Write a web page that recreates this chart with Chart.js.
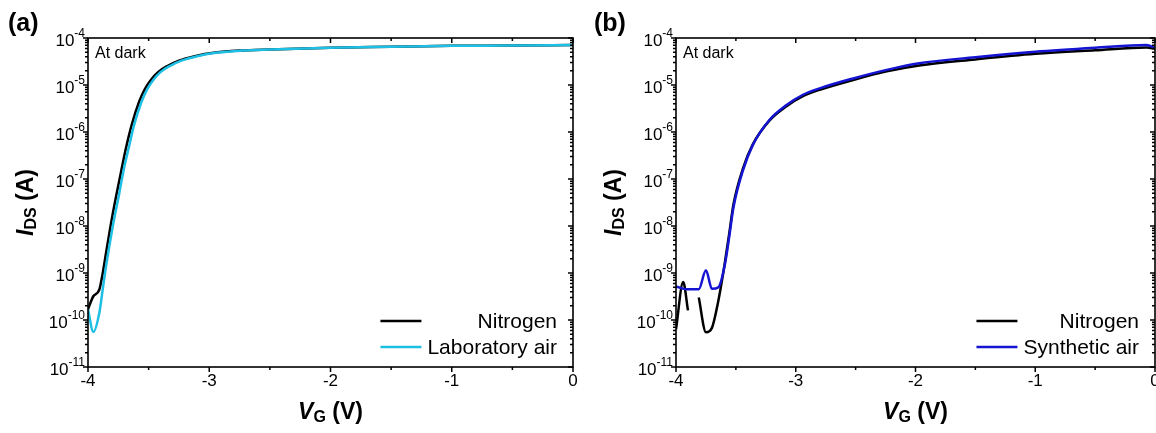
<!DOCTYPE html>
<html>
<head>
<meta charset="utf-8">
<script src="https://cdn.jsdelivr.net/npm/chart.js@4/dist/chart.umd.min.js"></script>
<style>
    body { margin: 0; background: #fff; }
    .panel { position: absolute; top: 0; }
    #panel-a { left: 0; }
    #panel-b { left: 580px; }
</style>
</head>
<body>
<canvas id="panel-a" class="panel" width="580" height="433"></canvas>
<canvas id="panel-b" class="panel" width="576" height="433"></canvas>
<script>
// tick values
const xTicks = [-4, -3, -2, -1, 0];
const yExponents = [-11, -10, -9, -8, -7, -6, -5, -4];

// (a) nitrogen vs laboratory air
const vgNitrogenA = [-4, -3.956, -3.907, -3.879, -3.852, -3.81, -3.769, -3.728, -3.69, -3.64, -3.577, -3.53, -3.48, -3.42, -3.35, -3.25, -3.12, -2.95, -2.75, -2.5, -2, -1.5, -1, -0.5, 0];
const idsNitrogenA = [1.7e-10, 3.2e-10, 4.4e-10, 9.8e-10, 2.6e-9, 1.15e-8, 4.2e-8, 1.4e-7, 4.2e-7, 1.4e-6, 4.5e-6, 8.3e-6, 1.3e-5, 1.9e-5, 2.5e-5, 3.3e-5, 4.1e-5, 4.9e-5, 5.4e-5, 5.7e-5, 6.2e-5, 6.5e-5, 6.8e-5, 6.9e-5, 7.1e-5];
const vgLabAir = [-4, -3.956, -3.907, -3.879, -3.852, -3.796, -3.742, -3.705, -3.665, -3.62, -3.56, -3.51, -3.46, -3.4, -3.33, -3.23, -3.1, -2.93, -2.73, -2.5, -2, -1.5, -1, -0.5, 0];
const idsLabAir = [1.7e-10, 5.6e-11, 1.4e-10, 4.4e-10, 1.35e-9, 9.8e-9, 5.0e-8, 1.6e-7, 4.5e-7, 1.4e-6, 4.3e-6, 8.3e-6, 1.3e-5, 1.9e-5, 2.5e-5, 3.3e-5, 4.1e-5, 4.9e-5, 5.4e-5, 5.7e-5, 6.2e-5, 6.5e-5, 6.8e-5, 6.9e-5, 7.1e-5];

// (b) nitrogen vs synthetic air (null = gap in the measurement)
const vgNitrogenB = [-4, -3.94, -3.9, -3.86, -3.81, -3.75, -3.7, -3.65, -3.607, -3.59, -3.555, -3.52, -3.44, -3.36, -3.22, -3.08, -2.94, -2.8, -2.52, -2.24, -1.97, -1.5, -1, -0.5, -0.07, 0];
const idsNitrogenB = [6.3e-11, 6.4e-10, 1.6e-10, null, 3.0e-10, 5.5e-11, 6.8e-11, 2.3e-10, 9.5e-10, 1.8e-9, 7e-9, 2.9e-8, 1.7e-7, 5.4e-7, 1.75e-6, 3.5e-6, 5.8e-6, 7.9e-6, 1.28e-5, 1.95e-5, 2.6e-5, 3.5e-5, 4.6e-5, 5.5e-5, 6.3e-5, 5.9e-5];
const vgSynAir = [-4, -3.91, -3.81, -3.75, -3.7, -3.645, -3.59, -3.555, -3.52, -3.44, -3.36, -3.22, -3.08, -2.94, -2.8, -2.52, -2.24, -1.97, -1.5, -1, -0.5, -0.07, 0];
const idsSynAir = [5.2e-10, 4.5e-10, 4.5e-10, 1.15e-9, 4.6e-10, 5.0e-10, 1.6e-9, 6e-9, 2.5e-8, 1.55e-7, 5.2e-7, 1.8e-6, 3.7e-6, 6.2e-6, 8.5e-6, 1.38e-5, 2.1e-5, 2.9e-5, 3.9e-5, 5.1e-5, 6.2e-5, 7.1e-5, 6.2e-5];

const FONT = 'Arial, "Liberation Sans", sans-serif';

function toPoints(vg, ids) {
    return vg.map((v, i) => ({ x: v, y: ids[i] }));
}

// draws a row of text pieces with different fonts / vertical offsets
function drawRich(ctx, parts, x, y, align) {
    let total = 0;
    parts.forEach(p => { ctx.font = p.font; p.w = ctx.measureText(p.t).width; total += p.w; });
    let cx = align === 'center' ? x - total / 2 : (align === 'right' ? x - total : x);
    ctx.textAlign = 'left';
    ctx.textBaseline = 'middle';
    parts.forEach(p => {
        ctx.font = p.font;
        ctx.fillText(p.t, cx, y + (p.dy || 0));
        cx += p.w;
    });
}

const decoPlugin = {
    id: 'deco',
    afterDraw(chart, args, opts) {
        const ctx = chart.ctx;
        const a = chart.chartArea;
        const xs = chart.scales.x;
        const ys = chart.scales.y;
        ctx.save();
        ctx.fillStyle = '#000';
        ctx.strokeStyle = '#000';

        // ticks: bottom/left outward, top/right inward
        ctx.lineWidth = 1.5;
        ctx.beginPath();
        for (let v = -4; v <= 0.001; v += 0.5) {
            const px = xs.getPixelForValue(v);
            const len = Number.isInteger(v) ? 5 : 3;
            ctx.moveTo(px, a.bottom); ctx.lineTo(px, a.bottom + len);
            ctx.moveTo(px, a.top); ctx.lineTo(px, a.top + len);
        }
        yExponents.forEach(e => {
            const py = ys.getPixelForValue(Math.pow(10, e));
            ctx.moveTo(a.left, py); ctx.lineTo(a.left - 5, py);
            ctx.moveTo(a.right, py); ctx.lineTo(a.right - 5, py);
            if (e < -4) {
                for (let k = 2; k <= 9; k++) {
                    const pm = ys.getPixelForValue(k * Math.pow(10, e));
                    ctx.moveTo(a.left, pm); ctx.lineTo(a.left - 3, pm);
                    ctx.moveTo(a.right, pm); ctx.lineTo(a.right - 3, pm);
                }
            }
        });
        ctx.stroke();

        // frame
        ctx.lineWidth = 1.6;
        ctx.strokeRect(a.left, a.top, a.right - a.left, a.bottom - a.top);

        // x tick labels
        ctx.font = '17px ' + FONT;
        ctx.textAlign = 'center';
        ctx.textBaseline = 'middle';
        xTicks.forEach(v => ctx.fillText(String(v), xs.getPixelForValue(v), a.bottom + 14));

        // y tick labels 10^n
        yExponents.forEach(e => {
            const py = ys.getPixelForValue(Math.pow(10, e));
            ctx.font = '12px ' + FONT;
            const supW = ctx.measureText(String(e)).width;
            ctx.textAlign = 'right';
            ctx.fillText(String(e), a.left - 3, py - 4);
            ctx.font = '17px ' + FONT;
            ctx.fillText('10', a.left - 3 - supW, py + 3);
        });

        // axis titles
        drawRich(ctx, [
            { t: 'V', font: 'italic bold 23px ' + FONT },
            { t: 'G', font: 'bold 16px ' + FONT, dy: 5 },
            { t: ' (V)', font: 'bold 23px ' + FONT }
        ], (a.left + a.right) / 2, 413, 'center');
        ctx.save();
        ctx.translate(a.left - 61, (a.top + a.bottom) / 2);
        ctx.rotate(-Math.PI / 2);
        drawRich(ctx, [
            { t: 'I', font: 'italic bold 23px ' + FONT },
            { t: 'DS', font: 'bold 16px ' + FONT, dy: 5 },
            { t: ' (A)', font: 'bold 23px ' + FONT }
        ], 0, 0, 'center');
        ctx.restore();

        // panel letter and note
        ctx.font = 'bold 25px ' + FONT;
        ctx.textAlign = 'left';
        ctx.textBaseline = 'middle';
        ctx.fillText(opts.letter, opts.letterX, 24);
        ctx.font = '16px ' + FONT;
        ctx.fillText('At dark', a.left + 7, a.top + 16);

        // legend, text right aligned
        ctx.font = '21px ' + FONT;
        const textRight = a.right - 16;
        const datasets = chart.data.datasets;
        let minStart = textRight;
        datasets.forEach(ds => { minStart = Math.min(minStart, textRight - ctx.measureText(ds.label).width); });
        datasets.forEach((ds, i) => {
            const ly = a.bottom - 46 + i * 26;
            ctx.strokeStyle = ds.borderColor;
            ctx.lineWidth = 2.5;
            ctx.beginPath();
            ctx.moveTo(minStart - 47, ly);
            ctx.lineTo(minStart - 6, ly);
            ctx.stroke();
            ctx.textAlign = 'right';
            ctx.fillText(ds.label, textRight, ly + 1);
        });
        ctx.restore();
    }
};

function makePanel(id, letter, letterX, padLeft, padRight, series) {
    new Chart(document.getElementById(id), {
        type: 'line',
        data: {
            datasets: series.map(s => ({
                label: s.label,
                data: toPoints(s.vg, s.ids),
                borderColor: s.color,
                borderWidth: 2.5,
                pointRadius: 0,
                cubicInterpolationMode: 'monotone',
                spanGaps: false,
                order: s.order,
                clip: 0
            }))
        },
        options: {
            responsive: false,
            animation: false,
            layout: { padding: { left: padLeft, right: padRight, top: 38, bottom: 66 } },
            scales: {
                x: { type: 'linear', min: -4, max: 0, display: false },
                y: { type: 'logarithmic', min: 1e-11, max: 1e-4, display: false }
            },
            plugins: {
                legend: { display: false },
                tooltip: { enabled: false },
                deco: { letter: letter, letterX: letterX }
            }
        },
        plugins: [decoPlugin]
    });
}

document.addEventListener('DOMContentLoaded', () => {
    makePanel('panel-a', '(a)', 8, 88, 7, [
        { label: 'Nitrogen', vg: vgNitrogenA, ids: idsNitrogenA, color: '#000000', order: 1 },
        { label: 'Laboratory air', vg: vgLabAir, ids: idsLabAir, color: '#1DBFE4', order: 0 }
    ]);
    makePanel('panel-b', '(b)', 14, 96, 1, [
        { label: 'Nitrogen', vg: vgNitrogenB, ids: idsNitrogenB, color: '#000000', order: 1 },
        { label: 'Synthetic air', vg: vgSynAir, ids: idsSynAir, color: '#1414D2', order: 0 }
    ]);
});
</script>
</body>
</html>
